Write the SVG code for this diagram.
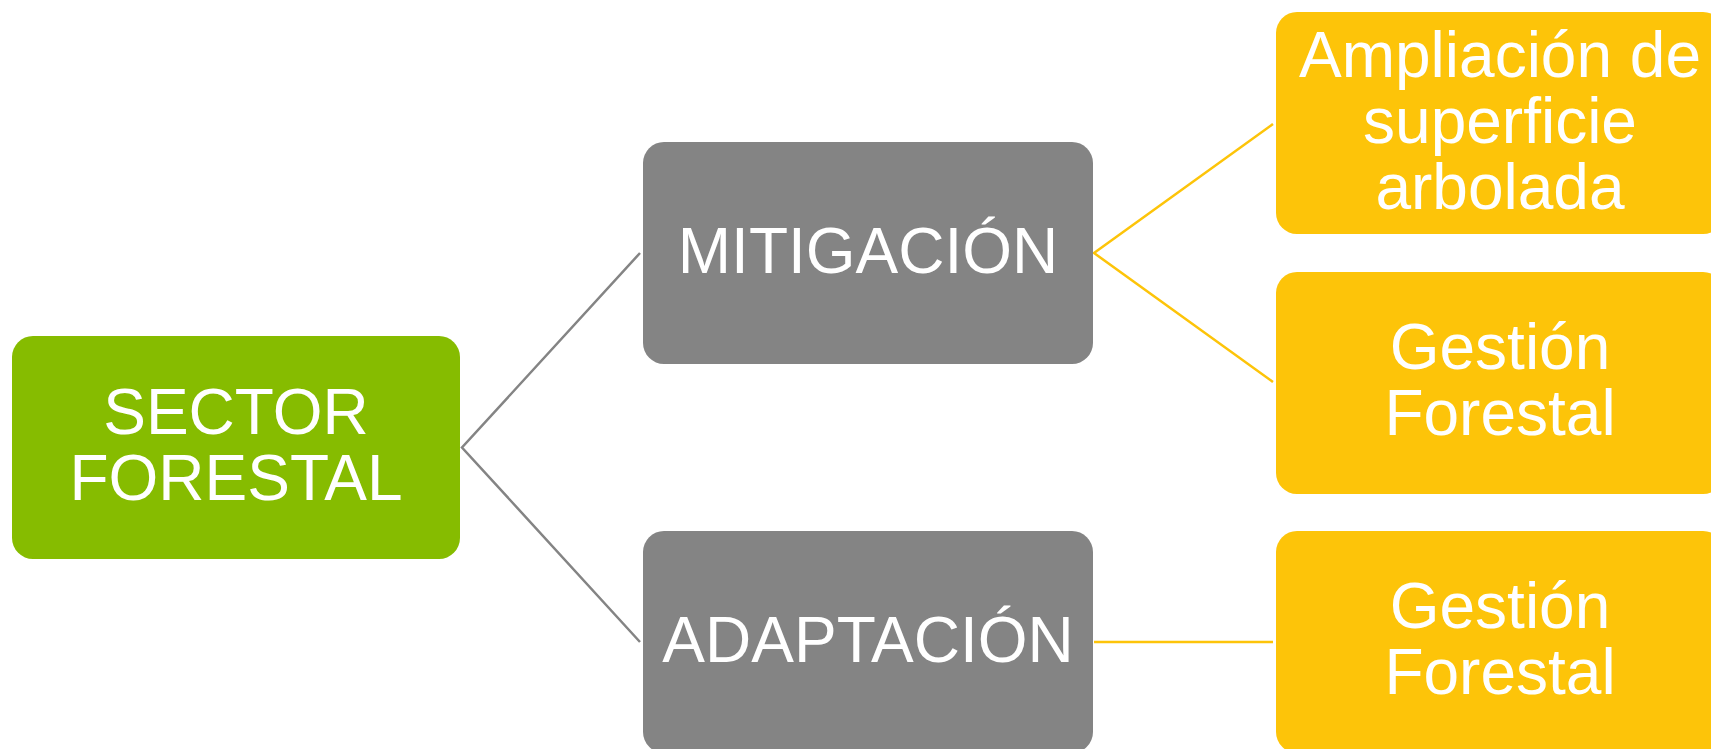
<svg xmlns="http://www.w3.org/2000/svg" width="1711" height="749" viewBox="0 0 1711 749">
<style>
.t{font-family:"Liberation Sans",Arial,sans-serif;font-size:64px;fill:#ffffff;text-anchor:middle}
.g{fill:#86BC00}
.k{fill:#848484}
.y{fill:#FDC409}
.cg{stroke:#848484;stroke-width:2.5;fill:none}
.cy{stroke:#FDC409;stroke-width:2.5;fill:none}
</style>
<rect width="1711" height="749" fill="#ffffff"/>
<g id="connectors">
<polyline class="cg" points="640,253 462,447.5 640,642"/>
<polyline class="cy" points="1273,124 1094,253 1273,382"/>
<line class="cy" x1="1094" y1="642" x2="1273" y2="642"/>
</g>
<g id="sector-forestal">
<rect class="g" x="12" y="336" width="448" height="223" rx="21"/>
<text class="t" x="236" y="434">SECTOR</text>
<text class="t" x="236" y="500">FORESTAL</text>
</g>
<g id="mitigacion">
<rect class="k" x="643" y="142" width="450" height="222" rx="21"/>
<text class="t" x="868" y="273">MITIGACIÓN</text>
</g>
<g id="adaptacion">
<rect class="k" x="643" y="531" width="450" height="222" rx="21"/>
<text class="t" x="868" y="662">ADAPTACIÓN</text>
</g>
<g id="ampliacion">
<rect class="y" x="1276" y="12" width="448" height="222" rx="21"/>
<text class="t" x="1500" y="77">Ampliación de</text>
<text class="t" x="1500" y="143">superficie</text>
<text class="t" x="1500" y="209">arbolada</text>
</g>
<g id="gestion-mitigacion">
<rect class="y" x="1276" y="272" width="448" height="222" rx="21"/>
<text class="t" x="1500" y="369">Gestión</text>
<text class="t" x="1500" y="435">Forestal</text>
</g>
<g id="gestion-adaptacion">
<rect class="y" x="1276" y="531" width="448" height="222" rx="21"/>
<text class="t" x="1500" y="628">Gestión</text>
<text class="t" x="1500" y="694">Forestal</text>
</g>
</svg>
